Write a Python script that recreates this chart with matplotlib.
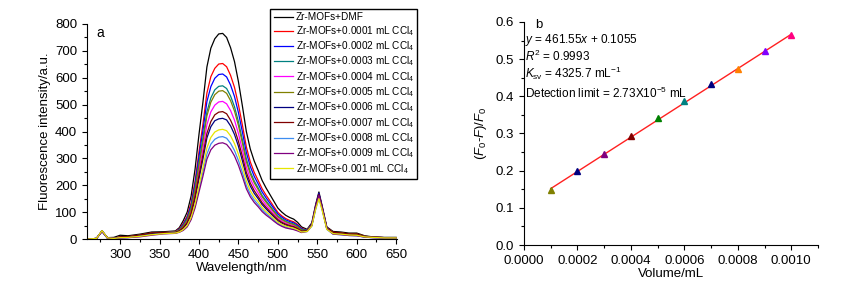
import numpy as np
import matplotlib
matplotlib.use("Agg")
import matplotlib.pyplot as plt
from matplotlib.ticker import MultipleLocator

plt.rcParams['font.family'] = ['Liberation Sans', 'DejaVu Sans']
plt.rcParams['mathtext.fontset'] = 'custom'
plt.rcParams['mathtext.rm'] = 'Liberation Sans'
plt.rcParams['mathtext.it'] = 'Liberation Sans:italic'
plt.rcParams['mathtext.bf'] = 'Liberation Sans:bold'

#################
# (a) espectros #
#################

wl = [260, 270, 277, 284, 292, 300, 310, 325, 340, 355,
      370, 375, 380, 385, 390, 395, 400, 405, 410, 415,
      420, 425, 430, 435, 440, 445, 450, 455, 460, 465,
      470, 475, 480, 485, 490, 495, 500, 505, 510, 515,
      520, 525, 530, 537, 543, 548, 552, 556, 562, 570,
      580, 590, 600, 610, 620, 635, 650]

dmf = [0, 2, 30, 5, 6, 14, 12, 18, 26, 27,
       30, 42, 68, 100, 160, 260, 390, 510, 640, 710,
       745, 763, 765, 750, 712, 660, 585, 495, 400, 335,
       290, 255, 218, 190, 165, 140, 115, 100, 88, 80,
       74, 62, 45, 36, 60, 130, 175, 125, 45, 28,
       26, 22, 22, 12, 8, 6, 6]
c0001 = [0, 2, 30, 4, 3, 8, 8, 14, 22, 24,
         28, 38, 58, 85, 135, 215, 325, 428, 543, 604,
         635, 651, 653, 641, 609, 564, 500, 424, 343, 287,
         248, 218, 187, 163, 142, 120, 99, 86, 76, 69,
         64, 54, 40, 33, 55, 125, 168, 120, 42, 25,
         22, 18, 18, 10, 7, 5, 5]
c0002 = [0, 2, 30, 4, 2, 5, 6, 12, 18, 22,
         27, 36, 54, 80, 126, 205, 308, 405, 511, 567,
         598, 612, 614, 603, 573, 530, 470, 398, 322, 270,
         233, 205, 175, 153, 133, 113, 93, 81, 71, 65,
         60, 51, 38, 32, 55, 125, 170, 120, 42, 22,
         20, 16, 15, 9, 6, 5, 5]
c0003 = [0, 2, 30, 4, 3, 7, 8, 15, 22, 24,
         26, 34, 50, 74, 117, 190, 285, 376, 473, 525,
         555, 568, 570, 560, 532, 492, 436, 369, 298, 250,
         216, 190, 162, 142, 123, 104, 86, 75, 66, 60,
         56, 47, 35, 32, 54, 122, 165, 118, 40, 24,
         22, 18, 18, 10, 7, 5, 5]
c0004 = [0, 2, 29, 4, 2, 6, 7, 13, 20, 23,
         25, 31, 45, 66, 104, 170, 256, 337, 425, 473,
         498, 510, 512, 503, 478, 442, 392, 331, 268, 224,
         194, 171, 146, 127, 110, 94, 77, 67, 59, 54,
         50, 42, 31, 30, 52, 120, 162, 116, 40, 22,
         20, 16, 15, 9, 6, 5, 5]
c0005 = [0, 2, 30, 4, 3, 7, 8, 14, 21, 23,
         26, 33, 48, 71, 112, 183, 276, 364, 458, 509,
         537, 550, 552, 542, 515, 476, 422, 357, 288, 242,
         209, 184, 157, 137, 119, 101, 83, 72, 64, 58,
         54, 45, 33, 31, 53, 120, 160, 115, 40, 24,
         22, 18, 17, 10, 7, 5, 5]
c0006 = [0, 2, 29, 3, 2, 5, 6, 12, 19, 22,
         23, 29, 40, 58, 91, 150, 225, 298, 376, 418,
         440, 447, 449, 443, 421, 389, 345, 291, 235, 197,
         170, 150, 128, 112, 97, 82, 68, 59, 52, 47,
         44, 37, 28, 29, 52, 122, 168, 118, 40, 20,
         18, 15, 14, 8, 6, 4, 4]
c0007 = [0, 2, 29, 4, 3, 8, 9, 15, 23, 24,
         24, 30, 42, 61, 96, 158, 237, 313, 393, 437,
         462, 472, 474, 466, 442, 409, 363, 307, 248, 208,
         180, 158, 135, 118, 102, 87, 72, 62, 55, 50,
         46, 39, 29, 30, 52, 122, 165, 118, 40, 25,
         23, 19, 19, 10, 7, 5, 5]
c0008 = [0, 2, 28, 3, 2, 5, 5, 10, 16, 20,
         22, 26, 34, 48, 76, 123, 186, 250, 316, 353,
         371, 379, 381, 375, 356, 329, 292, 247, 199, 167,
         145, 128, 109, 95, 83, 70, 58, 50, 44, 40,
         37, 32, 25, 28, 48, 112, 152, 110, 36, 18,
         16, 13, 12, 7, 5, 4, 4]
c0009 = [0, 2, 28, 3, 2, 4, 5, 8, 14, 19,
         21, 25, 32, 45, 72, 116, 175, 234, 297, 332,
         349, 356, 358, 352, 334, 309, 274, 232, 187, 157,
         136, 120, 102, 89, 78, 66, 55, 47, 41, 38,
         35, 30, 24, 28, 50, 118, 162, 115, 38, 18,
         16, 13, 12, 7, 5, 4, 4]
c0010 = [0, 2, 31, 4, 2, 5, 6, 10, 16, 20,
         22, 26, 35, 50, 80, 130, 198, 266, 339, 378,
         398, 406, 408, 403, 384, 355, 315, 268, 216, 180,
         156, 138, 117, 102, 89, 76, 63, 54, 48, 44,
         40, 34, 26, 28, 48, 112, 150, 108, 36, 20,
         18, 15, 14, 8, 6, 4, 4]

etiquetas = ['Zr-MOFs+DMF',
             'Zr-MOFs+0.0001 mL CCl$_4$', 'Zr-MOFs+0.0002 mL CCl$_4$',
             'Zr-MOFs+0.0003 mL CCl$_4$', 'Zr-MOFs+0.0004 mL CCl$_4$',
             'Zr-MOFs+0.0005 mL CCl$_4$', 'Zr-MOFs+0.0006 mL CCl$_4$',
             'Zr-MOFs+0.0007 mL CCl$_4$', 'Zr-MOFs+0.0008 mL CCl$_4$',
             'Zr-MOFs+0.0009 mL CCl$_4$', 'Zr-MOFs+0.001 mL CCl$_4$']
espectros = [dmf, c0001, c0002, c0003, c0004, c0005,
             c0006, c0007, c0008, c0009, c0010]
colores = ['#000000', '#ff0000', '#0000ff', '#008080', '#ff00ff', '#808000',
           '#000080', '#800000', '#3d8df0', '#800080', '#e6e600']

#######################
# (b) Stern-Volmer    #
#######################

vol = [0.0001, 0.0002, 0.0003, 0.0004, 0.0005,
       0.0006, 0.0007, 0.0008, 0.0009, 0.0010]
relacion = [0.148, 0.198, 0.245, 0.292, 0.342,
            0.388, 0.434, 0.474, 0.522, 0.564]
col_marcas = ['#808000', '#000080', '#800080', '#800000', '#008000',
              '#008080', '#000080', '#ff8000', '#8000ff', '#ff0080']
pendiente = 461.55
ordenada = 0.1055

fig = plt.figure(figsize=(8.55, 2.85), dpi=100)

# --- espectros ---
ax1 = fig.add_axes([87/855, 1-239/285, (397-87)/855, (239-24)/285])
for datos, lab, col in zip(espectros, etiquetas, colores):
    ax1.plot(wl, datos, color=col, lw=0.9, label=lab)
ax1.set_xlim(258, 651)
ax1.set_ylim(0, 800)
ax1.xaxis.set_major_locator(MultipleLocator(50))
ax1.xaxis.set_minor_locator(MultipleLocator(25))
ax1.yaxis.set_major_locator(MultipleLocator(100))
ax1.yaxis.set_minor_locator(MultipleLocator(50))
ax1.set_xlabel('Wavelength/nm', fontsize=9.5, labelpad=1)
ax1.set_ylabel('Fluorescence intensity/a.u.', fontsize=9.5, labelpad=3)
ax1.text(270, 766, 'a', fontsize=10, va='center')
fig.legend(loc='upper left', bbox_to_anchor=(270/855, 1-9/285),
           fontsize=7.2, frameon=True, fancybox=False, edgecolor='black',
           framealpha=1, handlelength=1.9, handletextpad=0.3,
           labelspacing=0.15, borderpad=0.35, borderaxespad=0)

# --- ajuste lineal ---
ax2 = fig.add_axes([524/855, 1-245/285, (818-524)/855, (245-22)/285])
x_fit = np.array([vol[0], vol[-1]])
ax2.plot(x_fit, pendiente*x_fit + ordenada, color='#ff2020', lw=1)
for xv, yv, col in zip(vol, relacion, col_marcas):
    ax2.plot(xv, yv, marker='^', color=col, ms=5, ls='none')
ax2.set_xlim(0, 0.0011)
ax2.set_ylim(0, 0.6)
ax2.xaxis.set_major_locator(MultipleLocator(0.0002))
ax2.xaxis.set_minor_locator(MultipleLocator(0.0001))
ax2.yaxis.set_major_locator(MultipleLocator(0.1))
ax2.yaxis.set_minor_locator(MultipleLocator(0.05))
ax2.xaxis.set_major_formatter(matplotlib.ticker.FormatStrFormatter('%.4f'))
ax2.yaxis.set_major_formatter(matplotlib.ticker.FormatStrFormatter('%.1f'))
ax2.set_xlabel('Volume/mL', fontsize=9.5, labelpad=1)
ax2.set_ylabel('($F_0$-$F$)/$F_0$', fontsize=9.5, labelpad=5)
ax2.text(0.00004, 0.592, 'b', fontsize=9.5, va='center')
ax2.text(0.000005, 0.552, '$y$ = 461.55$x$ + 0.1055', fontsize=8.5, va='center')
ax2.text(0.000005, 0.508, '$R^2$ = 0.9993', fontsize=8.5, va='center')
ax2.text(0.000005, 0.463, '$K_{\\rm sv}$ = 4325.7 mL$^{-1}$', fontsize=8.5, va='center')
ax2.text(0.000005, 0.409, 'Detection limit = 2.73X10$^{-5}$ mL', fontsize=8.5, va='center')

for ax in (ax1, ax2):
    ax.spines['top'].set_visible(False)
    ax.spines['right'].set_visible(False)
    ax.tick_params(which='major', direction='out', length=3.5, width=0.8, labelsize=9.5)
    ax.tick_params(which='minor', direction='out', length=2, width=0.8)

fig.savefig('out.png', dpi=100)
